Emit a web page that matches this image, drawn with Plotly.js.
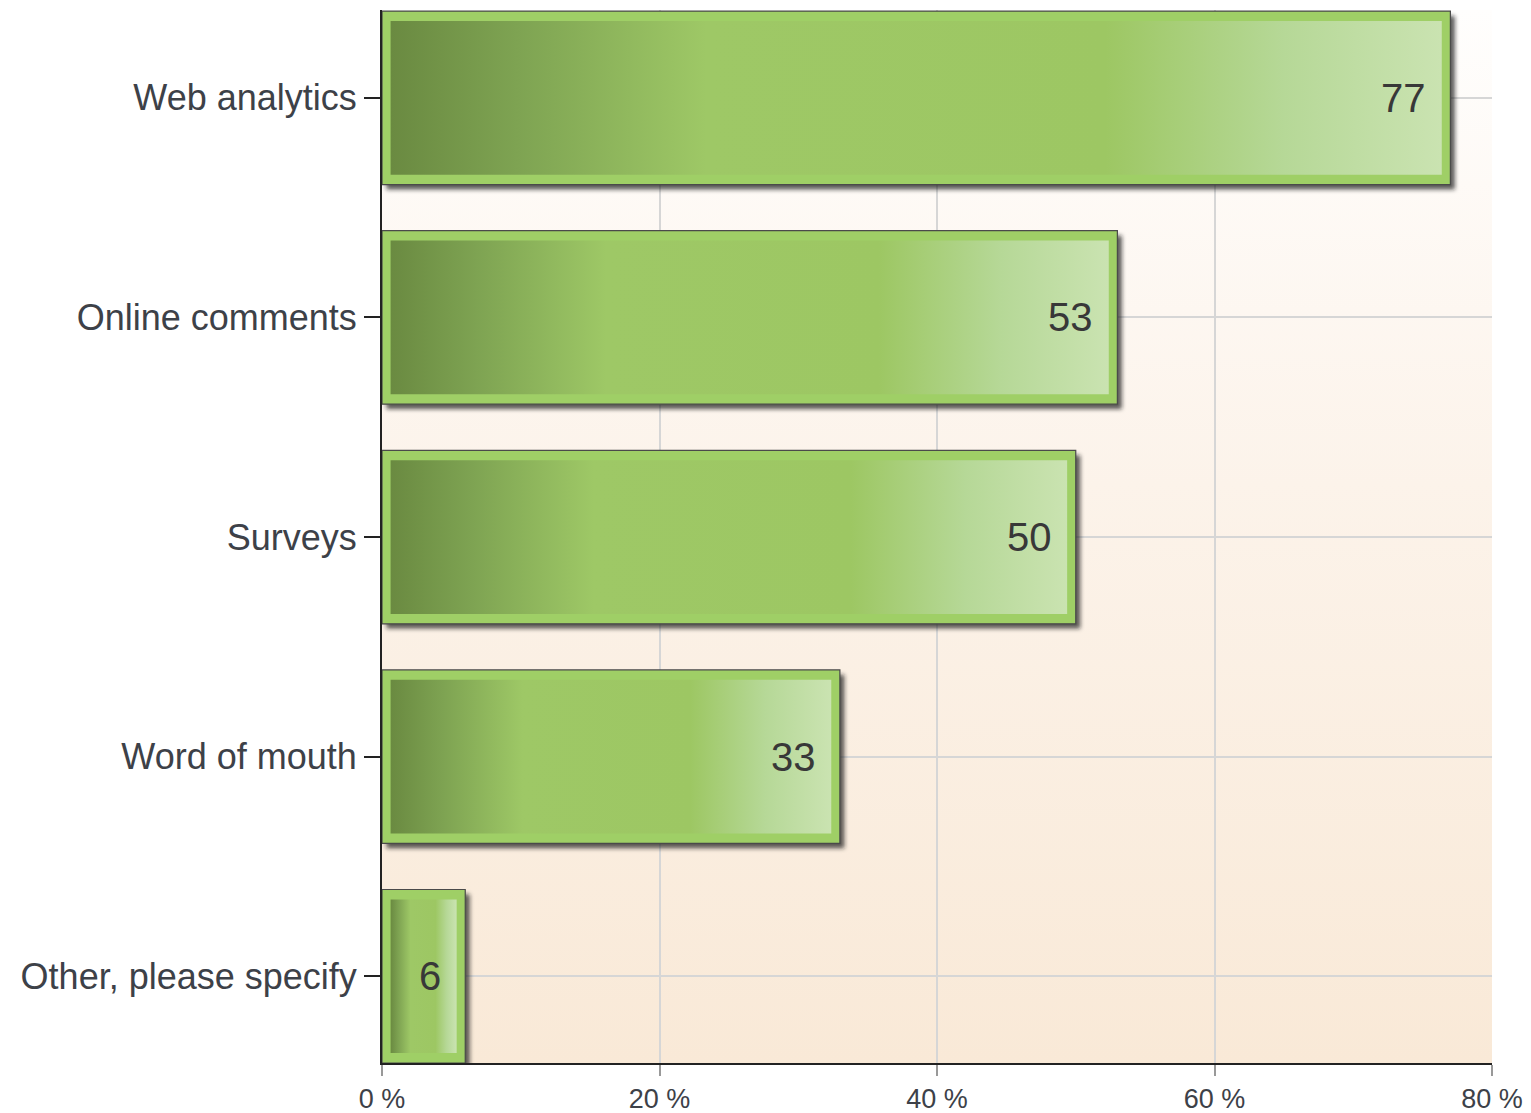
<!DOCTYPE html>
<html>
<head>
<meta charset="utf-8">
<script src="https://cdn.plot.ly/plotly-3.0.1.min.js"></script>
<style>
  html, body { margin:0; padding:0; background:#ffffff; }
  #wrap { position:relative; width:1531px; height:1113px; }
  #bg { position:absolute; left:382px; top:10px; width:1110px; height:1053px;
        background: linear-gradient(to bottom, #fffefd 0%, #fcf3ea 45%, #f9e9d7 100%); }
  #chart { position:absolute; left:0; top:0; width:1531px; height:1113px; }
</style>
</head>
<body>
<div id="wrap">
  <div id="bg"></div>
  <div id="chart"></div>
</div>
<script>
// ---- data ----
const categories = ['Other, please specify', 'Word of mouth', 'Surveys', 'Online comments', 'Web analytics'];
const values = [6, 33, 50, 53, 77];
const xTickVals = [0, 20, 40, 60, 80];
const xTickText = ['0 %', '20 %', '40 %', '60 %', '80 %'];

// ---- style ----
const FONT = '"Liberation Sans", Arial, sans-serif';
const positions = categories.map((c, i) => i);
const BAR_W = 0.79;
const INSET_X = 0.62;   // in axis units (%)
const INSET_Y = 0.045;  // in category units
const gradScale = [[0, '#6a8a41'], [0.12, '#7ea352'], [0.3, '#9ec866'], [0.68, '#9dc763'], [0.85, '#b6d897'], [1, '#cae3b1']];

const traces = [];
// shadow
traces.push({
  type: 'bar', orientation: 'h', y: positions, x: values, base: 0.32,
  width: BAR_W, offset: -BAR_W / 2 - 0.022,
  marker: { color: 'rgba(30,30,30,0.72)', line: { width: 0 } },
  hoverinfo: 'skip', showlegend: false
});
// main bar (outer border)
traces.push({
  type: 'bar', orientation: 'h', y: positions, x: values,
  width: BAR_W,
  marker: { color: '#9fcf66', line: { color: '#4a4a4a', width: 1.2 } },
  hoverinfo: 'skip', showlegend: false
});
// inner gradient panels
values.forEach((v, i) => {
  const h = BAR_W / 2 - INSET_Y;
  traces.push({
    type: 'scatter', mode: 'lines',
    x: [INSET_X, v - INSET_X, v - INSET_X, INSET_X, INSET_X],
    y: [i - h, i - h, i + h, i + h, i - h],
    fill: 'toself',
    fillgradient: { type: 'horizontal', colorscale: gradScale },
    line: { width: 0 },
    hoverinfo: 'skip', showlegend: false
  });
});

const annotations = values.map((v, i) => ({
  x: v, y: i, xref: 'x', yref: 'y', text: String(v), showarrow: false,
  xanchor: 'right', yanchor: 'middle', xshift: -22,
  font: { family: FONT, size: 40, color: '#383838' }
}));

const layout = {
  width: 1531, height: 1113,
  margin: { l: 382, r: 39, t: 10, b: 50, pad: 0 },
  paper_bgcolor: 'rgba(0,0,0,0)', plot_bgcolor: 'rgba(0,0,0,0)',
  barmode: 'overlay', showlegend: false,
  font: { family: FONT, color: '#333333' },
  xaxis: {
    range: [0, 80], tickvals: xTickVals, ticktext: xTickText,
    showgrid: true, gridcolor: '#d6d6d6', gridwidth: 2,
    zeroline: false, showline: true, linecolor: '#222222', linewidth: 2,
    ticks: 'outside', ticklen: 11, tickwidth: 2, tickcolor: '#999999',
    tickfont: { family: FONT, size: 27, color: '#3d4148' }, fixedrange: true
  },
  yaxis: {
    range: [-0.395, 4.4], tickvals: positions, ticktext: categories,
    showgrid: true, gridcolor: '#d6d6d6', gridwidth: 2,
    zeroline: false, showline: true, linecolor: '#222222', linewidth: 2,
    ticks: 'outside', ticklen: 16, tickwidth: 2, tickcolor: '#222222',
    tickfont: { family: FONT, size: 36, color: '#3d4148' }, fixedrange: true
  },
  annotations: annotations
};

Plotly.newPlot('chart', traces, layout, { displayModeBar: false, staticPlot: true }).then(gd => {
  const svg = gd.querySelector('.main-svg');
  const defs = svg.querySelector('defs');
  const ns = 'http://www.w3.org/2000/svg';
  const f = document.createElementNS(ns, 'filter');
  f.setAttribute('id', 'shadowblur');
  f.setAttribute('x', '-10%'); f.setAttribute('y', '-10%');
  f.setAttribute('width', '120%'); f.setAttribute('height', '120%');
  const b = document.createElementNS(ns, 'feGaussianBlur');
  b.setAttribute('stdDeviation', '2.2');
  f.appendChild(b);
  defs.appendChild(f);
  const barTraces = gd.querySelectorAll('.barlayer .trace');
  if (barTraces.length) {
    barTraces[0].querySelectorAll('path').forEach(p => p.setAttribute('filter', 'url(#shadowblur)'));
  }
});
</script>
</body>
</html>
